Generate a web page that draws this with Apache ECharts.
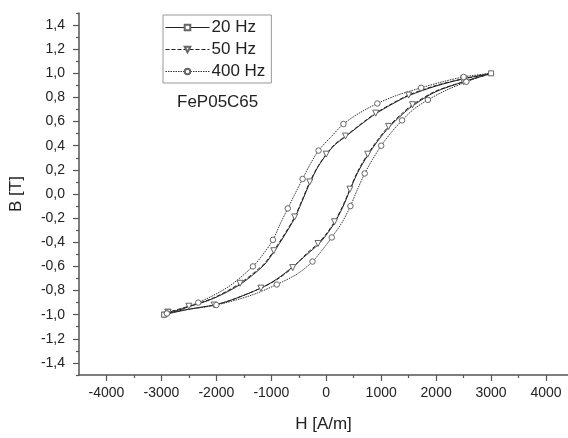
<!DOCTYPE html>
<html>
<head>
<meta charset="utf-8">
<script src="https://cdn.jsdelivr.net/npm/echarts@6/dist/echarts.min.js"></script>
<style>
html,body{margin:0;padding:0;background:#fff;}
#main{width:568px;height:438px;}
</style>
</head>
<body>
<div id="main"></div>
<script>
// H [A/m] and B [T], loop goes up along the lower branch, back along the upper one
var h20 = [-2950,-2500,-2040,-1735,-1190,-900,-600,-350,-150,0,150,300,430,575,755,955,1135,1385,1570,1980,2500,3000,
           2500,2000,1500,1200,900,600,350,150,0,-150,-300,-430,-575,-755,-955,-1135,-1570,-2050,-2500,-2950];
var b20 = [-1.0,-0.955,-0.92,-0.88,-0.78,-0.705,-0.6,-0.5,-0.42,-0.34,-0.24,-0.11,0.03,0.18,0.32,0.45,0.55,0.66,0.73,0.845,0.93,1.0,
           0.955,0.895,0.815,0.745,0.665,0.565,0.475,0.405,0.325,0.225,0.09,-0.05,-0.2,-0.34,-0.48,-0.59,-0.75,-0.865,-0.935,-1.0];

var h50 = [-2880,-2500,-2040,-1735,-1190,-900,-610,-350,-150,0,150,300,430,575,755,955,1135,1385,1570,1980,2500,2950,
           2500,2000,1500,1200,900,600,350,150,0,-150,-300,-430,-575,-755,-955,-1135,-1570,-2050,-2500,-2880];
var b50 = [-0.98,-0.955,-0.92,-0.88,-0.78,-0.71,-0.61,-0.49,-0.41,-0.33,-0.23,-0.1,0.04,0.19,0.33,0.46,0.56,0.67,0.74,0.85,0.93,0.99,
           0.955,0.9,0.82,0.75,0.67,0.57,0.48,0.41,0.33,0.23,0.1,-0.04,-0.19,-0.33,-0.47,-0.58,-0.74,-0.86,-0.93,-0.98];

var h400 = [-2900,-2500,-2000,-1370,-900,-520,-250,-65,100,295,440,570,700,840,1000,1165,1380,1585,1850,2160,2550,2980,
            2500,2075,1726,1300,930,600,313,80,-140,-300,-430,-570,-700,-840,-970,-1150,-1335,-1785,-2330,-2900];
var b400 = [-0.99,-0.955,-0.92,-0.84,-0.75,-0.66,-0.56,-0.46,-0.36,-0.23,-0.1,0.04,0.17,0.285,0.4,0.5,0.61,0.7,0.78,0.855,0.93,1.0,
            0.97,0.925,0.88,0.82,0.75,0.67,0.58,0.47,0.36,0.24,0.125,0.0,-0.12,-0.25,-0.38,-0.5,-0.6,-0.77,-0.9,-0.99];

var xMajor = [-4000,-3000,-2000,-1000,0,1000,2000,3000,4000];
var xMinor = [-3500,-2500,-1500,-500,500,1500,2500,3500];
var yMajor = [-1.4,-1.2,-1.0,-0.8,-0.6,-0.4,-0.2,0,0.2,0.4,0.6,0.8,1.0,1.2,1.4];
var yMinor = [-1.5,-1.3,-1.1,-0.9,-0.7,-0.5,-0.3,-0.1,0.1,0.3,0.5,0.7,0.9,1.1,1.3,1.5];

var FONT = 'Liberation Sans, Arial, sans-serif';
var AX = '#555';
var TXT = '#222';

function pts(h, b, every, sym){
    return h.map(function(v, i){
        var show = (i % every === 0) || i === h.length - 1;
        return {value: [v, b[i]], symbol: show ? sym : 'none'};
    });
}

var myChart = echarts.init(document.getElementById('main'));
var option = {
    animation: false,
    backgroundColor: '#fff',
    title: {
        text: 'FeP05C65',
        left: 172, top: 89,
        textStyle: {fontFamily: FONT, fontSize: 17, fontWeight: 'normal', color: TXT}
    },
    legend: {
        orient: 'vertical',
        left: 163, top: 15,
        padding: [4, 6, 3, 2],
        itemGap: 5,
        itemWidth: 44, itemHeight: 7,
        borderColor: '#999', borderWidth: 1,
        lineStyle: {width: 1},
        textStyle: {fontFamily: FONT, fontSize: 17, color: TXT, padding: [0, 0, 0, -3]},
        data: ['20 Hz', '50 Hz', '400 Hz']
    },
    grid: {left: 77, right: 0, top: 13, bottom: 54},
    xAxis: [{
        type: 'value', min: -4500, max: 4400,
        name: 'H [A/m]', nameLocation: 'middle', nameGap: 41,
        nameTextStyle: {fontFamily: FONT, fontSize: 17, color: TXT},
        splitLine: {show: false},
        axisLine: {onZero: false, lineStyle: {color: AX, width: 1.5}},
        axisTick: {customValues: xMajor, length: 6, lineStyle: {color: AX, width: 1.2}},
        axisLabel: {
            customValues: xMajor, margin: 11, fontFamily: FONT, fontSize: 14, color: TXT,
            formatter: function(v){ return String(v); }
        }
    }, {
        type: 'value', min: -4500, max: 4400, position: 'bottom',
        splitLine: {show: false},
        axisLine: {show: false, onZero: false},
        axisTick: {customValues: xMinor, length: 3, lineStyle: {color: AX, width: 1.2}},
        axisLabel: {show: false}
    }],
    yAxis: [{
        type: 'value', min: -1.5, max: 1.5,
        name: 'B [T]', nameLocation: 'middle', nameGap: 54, nameRotate: 90,
        nameTextStyle: {fontFamily: FONT, fontSize: 17, color: TXT},
        splitLine: {show: false},
        axisLine: {onZero: false, lineStyle: {color: AX, width: 1.5}},
        axisTick: {customValues: yMajor, length: 6, lineStyle: {color: AX, width: 1.2}},
        axisLabel: {
            customValues: yMajor, margin: 14, fontFamily: FONT, fontSize: 14, color: TXT,
            formatter: function(v){ return v.toFixed(1).replace('.', ','); }
        }
    }, {
        type: 'value', min: -1.5, max: 1.5, position: 'left',
        splitLine: {show: false},
        axisLine: {show: false, onZero: false},
        axisTick: {customValues: yMinor, length: 3, lineStyle: {color: AX, width: 1.2}},
        axisLabel: {show: false}
    }],
    series: [{
        name: '20 Hz', type: 'line', data: pts(h20, b20, 21, 'rect'),
        symbol: 'rect', symbolSize: 5, smooth: 0.3,
        lineStyle: {color: '#222', width: 1},
        itemStyle: {color: '#fff', borderColor: '#666', borderWidth: 1}
    }, {
        name: '50 Hz', type: 'line', data: pts(h50, b50, 2, 'triangle'),
        symbol: 'triangle', symbolRotate: 180, symbolSize: 6, smooth: 0.3,
        lineStyle: {color: '#222', width: 1, type: [4, 2]},
        itemStyle: {color: '#fff', borderColor: '#666', borderWidth: 1}
    }, {
        name: '400 Hz', type: 'line', data: pts(h400, b400, 2, 'circle'),
        symbol: 'circle', symbolSize: 5.5, smooth: 0.3,
        lineStyle: {color: '#333', width: 1, type: [1.5, 1]},
        itemStyle: {color: '#fff', borderColor: '#666', borderWidth: 1}
    }]
};
myChart.setOption(option);
</script>
</body>
</html>
